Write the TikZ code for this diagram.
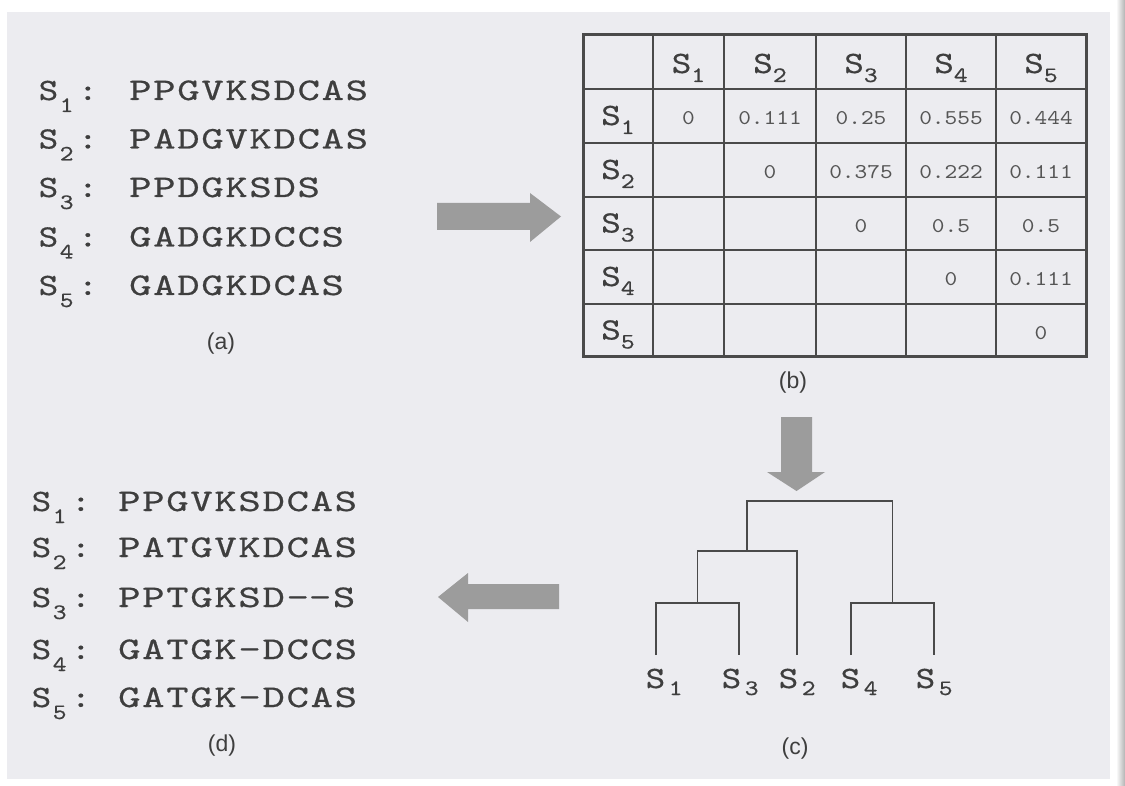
\documentclass[tikz,border=0pt]{standalone}
\usepackage{fontspec}
\newfontfamily\seqfont{lmmono10-regular.otf}[FakeStretch=1.35,LetterSpace=5.5,FakeBold=0.6]
\newfontfamily\labfont{lmmono10-regular.otf}[FakeStretch=1.2,FakeBold=0.5]
\newfontfamily\numfont{lmmono10-regular.otf}[FakeStretch=1.15]
\newfontfamily\capfont{Liberation Sans}
\definecolor{bg}{HTML}{ECECF0}
\definecolor{ink}{HTML}{3E3E3E}
\definecolor{numink}{HTML}{555555}
\definecolor{arrowgray}{HTML}{9C9C9C}
\definecolor{rule}{HTML}{4A4A4A}
% S with subscript: #1 kern, #2 lowering, #3 digit
\newcommand\Sname[3]{{\labfont\fontsize{31}{31}\selectfont S}\kern#1\raisebox{-#2}{\labfont\fontsize{22}{22}\selectfont #3}}
\newcommand\Seqlab[1]{\Sname{1.5pt}{12pt}{#1}\kern4.5pt{\labfont\fontsize{31}{31}\selectfont :}}
\begin{document}
\begin{tikzpicture}[x=1pt,y=-1pt,
  seqA/.style={anchor=base west,inner sep=0pt,text=ink,font={\seqfont\fontsize{31.5}{31.5}\selectfont}},
  seqD/.style={anchor=base west,inner sep=0pt,text=ink,font={\seqfont\fontsize{31.5}{31.5}\selectfont}},
  seqlab/.style={anchor=base west,inner sep=0pt,text=ink},
  hdr/.style={anchor=base,inner sep=0pt,text=ink},
  num/.style={anchor=base,inner sep=0pt,text=numink,font={\numfont\fontsize{21}{21}\selectfont}},
  panelcap/.style={inner sep=0pt,text=ink,font={\capfont\fontsize{23}{23}\selectfont}},
  tablegrid/.style={draw=rule,line width=1.4pt},
  tableframe/.style={draw=rule,line width=3pt},
  branch/.style={draw=rule,line width=1.5pt},
  blockarrow/.style={fill=arrowgray,draw=none}]
\useasboundingbox (0,0) rectangle (1125,786);
\fill[white] (0,0) rectangle (1125,786);
\fill[bg] (7,12) rectangle (1110,779);
\shade[left color=white,right color=black!30] (1116,0) rectangle (1125,786);

% ---------- (a) input sequences ----------
\node[seqlab] (la1) at (38.5,100) {\Seqlab{1}};
\node[seqlab] (la2) at (38.5,148.5) {\Seqlab{2}};
\node[seqlab] (la3) at (38.5,197) {\Seqlab{3}};
\node[seqlab] (la4) at (38.5,246.5) {\Seqlab{4}};
\node[seqlab] (la5) at (38.5,295) {\Seqlab{5}};
\node[seqA] (a1) at (129,100) {PPGVKSDCAS};
\node[seqA] (a2) at (129,148.5) {PADGVKDCAS};
\node[seqA] (a3) at (129,197) {PPDGKSDS};
\node[seqA] (a4) at (129,246.5) {GADGKDCCS};
\node[seqA] (a5) at (129,295) {GADGKDCAS};
\node[panelcap] (capa) at (221,344) {(a)};

% ---------- (b) distance matrix ----------
\foreach \x in {653,724,816,906,996} \draw[tablegrid] (\x,35) -- (\x,357);
\foreach \y in {89,143,197,250,304} \draw[tablegrid] (583,\y) -- (1086,\y);
\draw[tableframe] (583,35) rectangle (1086,357);
\node[hdr] (h1) at (688.5,73) {\Sname{0pt}{9pt}{1}};
\node[hdr] (h2) at (770,73) {\Sname{0pt}{9pt}{2}};
\node[hdr] (h3) at (861,73) {\Sname{0pt}{9pt}{3}};
\node[hdr] (h4) at (951,73) {\Sname{0pt}{9pt}{4}};
\node[hdr] (h5) at (1041,73) {\Sname{0pt}{9pt}{5}};
\node[hdr] (r1) at (618,125) {\Sname{0pt}{9pt}{1}};
\node[hdr] (r2) at (618,179) {\Sname{0pt}{9pt}{2}};
\node[hdr] (r3) at (618,232.5) {\Sname{0pt}{9pt}{3}};
\node[hdr] (r4) at (618,286) {\Sname{0pt}{9pt}{4}};
\node[hdr] (r5) at (618,339.5) {\Sname{0pt}{9pt}{5}};
% row S1
\node[num] (m11) at (688.5,125) {0};
\node[num] (m12) at (770,125) {0.111};
\node[num] (m13) at (861,125) {0.25};
\node[num] (m14) at (951,125) {0.555};
\node[num] (m15) at (1041,125) {0.444};
% row S2
\node[num] (m22) at (770,179) {0};
\node[num] (m23) at (861,179) {0.375};
\node[num] (m24) at (951,179) {0.222};
\node[num] (m25) at (1041,179) {0.111};
% row S3
\node[num] (m33) at (861,232.5) {0};
\node[num] (m34) at (951,232.5) {0.5};
\node[num] (m35) at (1041,232.5) {0.5};
% row S4
\node[num] (m44) at (951,286) {0};
\node[num] (m45) at (1041,286) {0.111};
% row S5
\node[num] (m55) at (1041,339.5) {0};
\node[panelcap] (capb) at (793,383) {(b)};

% ---------- (c) guide tree ----------
\coordinate (l1) at (656,655);
\coordinate (l3) at (739,655);
\coordinate (l2) at (797,655);
\coordinate (l4) at (851,655);
\coordinate (l5) at (934,655);
\coordinate (n13) at (697.5,603);
\coordinate (n132) at (747,551);
\coordinate (n45) at (892.5,603);
\coordinate (root) at (820,501);
\draw[branch] (l1) |- (n13) -| (l3);
\draw[branch] (n13) |- (n132) -| (l2);
\draw[branch] (l4) |- (n45) -| (l5);
\draw[branch] (n132) |- (root) -| (n45);
\node[seqlab] (t1) at (645.5,688) {\Sname{3.5pt}{7pt}{1}};
\node[seqlab] (t3) at (721.5,688) {\Sname{3.5pt}{7pt}{3}};
\node[seqlab] (t2) at (778.5,688) {\Sname{3.5pt}{7pt}{2}};
\node[seqlab] (t4) at (840.5,688) {\Sname{3.5pt}{7pt}{4}};
\node[seqlab] (t5) at (915.5,688) {\Sname{3.5pt}{7pt}{5}};
\node[panelcap] (capc) at (795,749) {(c)};

% ---------- (d) multiple alignment ----------
\node[seqlab] (ld1) at (31.5,511) {\Seqlab{1}};
\node[seqlab] (ld2) at (31.5,557) {\Seqlab{2}};
\node[seqlab] (ld3) at (31.5,607) {\Seqlab{3}};
\node[seqlab] (ld4) at (31.5,659) {\Seqlab{4}};
\node[seqlab] (ld5) at (31.5,707) {\Seqlab{5}};
\node[seqD] (d1) at (118,511) {PPGVKSDCAS};
\node[seqD] (d2) at (118,557) {PATGVKDCAS};
\node[seqD] (d3) at (118,607) {PPTGKSD-\kern0pt-S};
\node[seqD] (d4) at (118,659) {GATGK-DCCS};
\node[seqD] (d5) at (118,707) {GATGK-DCAS};
\node[panelcap] (capd) at (222,746) {(d)};

% ---------- block arrows between panels ----------
\fill[blockarrow] (437,203) -- (530,203) -- (530,193) -- (561,216.5) -- (530,242) -- (530,230) -- (437,230) -- cycle;
\fill[blockarrow] (781,417) -- (812,417) -- (812,472) -- (825,472) -- (796.5,491) -- (767,472) -- (781,472) -- cycle;
\fill[blockarrow] (559,584) -- (468,584) -- (468,573) -- (438,597) -- (468,622) -- (468,609) -- (559,609) -- cycle;
\end{tikzpicture}
\end{document}
